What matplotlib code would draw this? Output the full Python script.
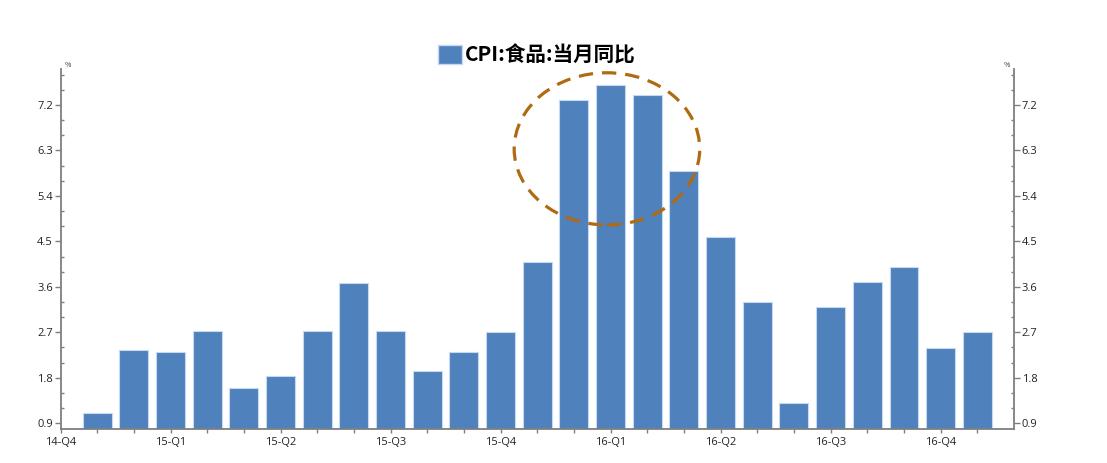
import matplotlib
matplotlib.use('Agg')
from matplotlib import pyplot as plt
from matplotlib.patches import Ellipse, Patch
from matplotlib.ticker import MultipleLocator, FormatStrFormatter
import numpy as np

plt.rcParams['font.family'] = ['Noto Sans CJK SC', 'DejaVu Sans']

# CPI 食品 当月同比, 2015-01 .. 2017-01 (位置 0 = 2014-12, 无数据)
werte = [1.1, 2.36, 2.32, 2.72, 1.6, 1.84, 2.72, 3.68, 2.72, 1.93, 2.32, 2.7, 4.1,
         7.3, 7.6, 7.39, 5.9, 4.59, 3.3, 1.3, 3.2, 3.7, 3.99, 2.39, 2.7]
quartal_labels = ['14-Q4', '15-Q1', '15-Q2', '15-Q3', '15-Q4', '16-Q1', '16-Q2', '16-Q3', '16-Q4']
serie_name = 'CPI:食品:当月同比'

blau = '#4f81bd'
achse = '#7f7f7f'
tick_font = 'Open Sans'

fig = plt.figure(figsize=(11.07, 4.63), dpi=100)
ax = fig.add_axes([0.0547, 0.0734, 0.8613, 0.7776])

x = np.arange(1, len(werte) + 1)
ax.bar(x, werte, width=0.79, color=blau, edgecolor='#c6d9f1', linewidth=0.8, zorder=2)

ax.set_xlim(0, len(werte) + 1)
ax.set_ylim(0.787, 7.91)

# x-Achse
ax.set_xticks(np.arange(0, len(werte) + 1))
xlabels = [''] * (len(werte) + 1)
for i, lab in enumerate(quartal_labels):
    xlabels[i * 3] = lab
ax.set_xticklabels(xlabels, family=tick_font)
ax.tick_params(axis='x', length=3, width=1, color=achse, pad=2.5, labelsize=8, labelcolor='#222222')

# y-Achsen links und rechts
ax2 = ax.twinx()
ax2.set_ylim(ax.get_ylim())
for a in (ax, ax2):
    a.set_yticks(np.arange(0.9, 7.3, 0.9))
    a.yaxis.set_minor_locator(MultipleLocator(0.3))
    a.yaxis.set_major_formatter(FormatStrFormatter('%.1f'))
    a.tick_params(axis='y', which='major', length=4, width=1, color=achse, direction='out',
                  pad=1.5, labelsize=8, labelcolor='#222222')
    a.tick_params(axis='y', which='minor', length=2.5, width=1, color=achse, direction='in')
    for lab in a.get_yticklabels():
        lab.set_family(tick_font)
    for s in a.spines.values():
        s.set_color(achse)
        s.set_linewidth(1.3)
    a.spines['top'].set_visible(False)
ax.spines['right'].set_visible(False)
ax2.spines['bottom'].set_visible(False)
ax2.spines['left'].set_visible(False)

ax.text(0.004, 1.0, '%', transform=ax.transAxes, fontsize=5, color='#333333', ha='left', va='bottom')
ax2.text(0.996, 1.0, '%', transform=ax2.transAxes, fontsize=5, color='#333333', ha='right', va='bottom')

# Markierung der Spitze
ax.add_patch(Ellipse((14.9, 6.33), 5.06, 3.01, fill=False, edgecolor='#b06a12',
                     linewidth=2.3, linestyle=(0, (4.5, 2.8)), zorder=3, clip_on=False))

fig.legend(handles=[Patch(facecolor=blau, edgecolor='#c6d9f1')], labels=[serie_name],
           loc='center', bbox_to_anchor=(0.485, 0.881), frameon=False,
           prop={'size': 14.8, 'weight': 'bold'}, handlelength=1.15, handleheight=1.0,
           handletextpad=0.15)

fig.savefig('out.png', dpi=100)
